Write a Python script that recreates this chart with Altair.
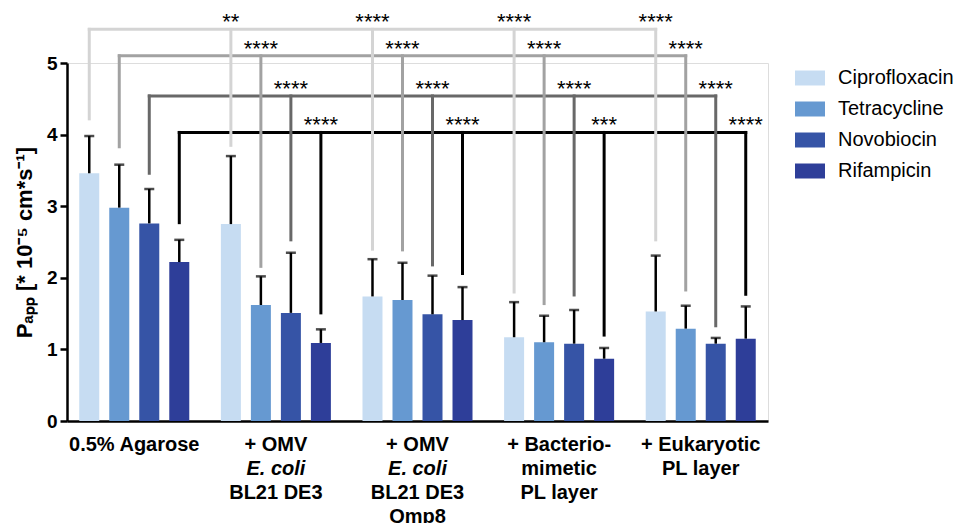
import altair as alt
import pandas as pd

# ---------------- data ----------------
groups = ["agarose", "omv_bl21", "omv_omp8", "bacterio", "eukaryotic"]
drugs = ["Ciprofloxacin", "Tetracycline", "Novobiocin", "Rifampicin"]
bar_colors = ["#c6dcf2", "#6699d1", "#3654a6", "#2e3e99"]
bracket_colors = ["#d4d4d4", "#a2a2a2", "#686868", "#000000"]

# mean Papp values (x 10^-5 cm/s) per group
cipro_mean = [3.46, 2.75, 1.74, 1.17, 1.53]
tetra_mean = [2.98, 1.62, 1.69, 1.10, 1.29]
novo_mean = [2.76, 1.51, 1.49, 1.08, 1.08]
rifa_mean = [2.22, 1.09, 1.41, 0.87, 1.15]

# standard deviations
cipro_sd = [0.52, 0.95, 0.52, 0.49, 0.78]
tetra_sd = [0.60, 0.40, 0.52, 0.37, 0.32]
novo_sd = [0.48, 0.84, 0.54, 0.47, 0.08]
rifa_sd = [0.31, 0.19, 0.46, 0.15, 0.45]

# significance brackets: bracket height and drop-line ends per group
bracket_level = [5.47, 5.10, 4.54, 4.03]
cipro_drop = [4.22, 3.85, 2.40, 1.80, 2.53]
tetra_drop = [3.83, 2.16, 2.39, 1.64, 1.83]
novo_drop = [3.46, 2.53, 2.18, 1.76, 1.33]
rifa_drop = [2.77, 1.51, 2.06, 1.20, 1.77]

cipro_stars = ["", "**", "****", "****", "****"]
tetra_stars = ["", "****", "****", "****", "****"]
novo_stars = ["", "****", "****", "****", "****"]
rifa_stars = ["", "****", "****", "***", "****"]

# x category labels (multi-line), italic flag per line
label_lines = [
    ["0.5% Agarose"],
    ["+ OMV", "E. coli", "BL21 DE3"],
    ["+ OMV", "E. coli", "BL21 DE3", "Omp8"],
    ["+ Bacterio-", "mimetic", "PL layer"],
    ["+ Eukaryotic", "PL layer"],
]
italic_lines = ["E. coli"]

y_title = "Pₐₚₚ [* 10⁻⁵ cm*s⁻¹]"

# ---------------- tables ----------------
means = [cipro_mean, tetra_mean, novo_mean, rifa_mean]
sds = [cipro_sd, tetra_sd, novo_sd, rifa_sd]
drops = [cipro_drop, tetra_drop, novo_drop, rifa_drop]
stars = [cipro_stars, tetra_stars, novo_stars, rifa_stars]

rows = []
for d, drug in enumerate(drugs):
    for g, grp in enumerate(groups):
        rows.append({
            "group": grp, "drug": drug,
            "mean": means[d][g], "top": means[d][g] + sds[d][g],
            "drop": drops[d][g], "level": bracket_level[d],
            "stars": stars[d][g], "bcolor": bracket_colors[d],
        })
df = pd.DataFrame(rows)

lab_rows = []
for g, grp in enumerate(groups):
    for k, line in enumerate(label_lines[g]):
        lab_rows.append({"group": grp, "line": k, "text": line,
                         "italic": line in italic_lines})
labels = pd.DataFrame(lab_rows)

W, H = 701, 358
x_scale = alt.Scale(domain=groups, paddingInner=0.223, paddingOuter=0.0865)
xo_scale = alt.Scale(domain=drugs, paddingInner=0.333, paddingOuter=0)
y_scale = alt.Scale(domain=[0, 5], nice=False)

X = alt.X("group:N", scale=x_scale, sort=groups,
          axis=alt.Axis(labels=False, ticks=False, title=None,
                        domainColor="black", domainWidth=2.5))
XO = alt.XOffset("drug:N", scale=xo_scale, sort=drugs)

base = alt.Chart(df)

bars = base.mark_bar(size=20).encode(
    x=X, xOffset=XO,
    y=alt.Y("mean:Q", scale=y_scale,
            axis=alt.Axis(values=[0, 1, 2, 3, 4, 5], format="d", title=y_title,
                          grid=False, domainColor="black", domainWidth=2.5,
                          tickColor="black", tickWidth=2.5, tickSize=7,
                          labelFontSize=19, labelFontWeight="bold",
                          labelColor="black", labelPadding=3,
                          titleFontSize=22, titleFontWeight="bold",
                          titleColor="black", titlePadding=10)),
    color=alt.Color("drug:N", sort=drugs,
                    scale=alt.Scale(domain=drugs, range=bar_colors),
                    legend=alt.Legend(
                        title=None, orient="right", offset=27, padding=0,
                        symbolType="M-1,-0.5H1V0.5H-1Z", symbolSize=900,
                        symbolStrokeWidth=0, labelFontSize=20,
                        labelColor="black", labelOffset=13, rowPadding=6)),
)

err_stem = base.mark_rule(color="black", strokeWidth=2.5).encode(
    x=X, xOffset=XO, y="mean:Q", y2="top:Q")
err_cap = base.mark_tick(color="black", orient="horizontal", size=10,
                         thickness=2.5).encode(x=X, xOffset=XO, y="top:Q")

h_lines = base.mark_line(strokeWidth=3, strokeCap="square").encode(
    x=X, xOffset=XO, y="level:Q",
    detail="drug:N",
    stroke=alt.Stroke("bcolor:N", scale=None))

v_lines = base.mark_rule(strokeWidth=3, strokeCap="square").encode(
    x=X, xOffset=XO, y="drop:Q", y2="level:Q",
    stroke=alt.Stroke("bcolor:N", scale=None))

star_text = base.mark_text(fontSize=22, baseline="alphabetic", dy=0,
                           color="black").encode(
    x=X, xOffset=XO, y="level:Q", text="stars:N")

lab_base = alt.Chart(labels).mark_text(
    fontSize=20, fontWeight="bold", color="black", baseline="middle",
    fontStyle={"expr": "datum.italic ? 'italic' : 'normal'"})
label_layers = [
    lab_base.transform_filter(alt.datum.line == k).encode(
        x=alt.X("group:N", scale=x_scale, sort=groups),
        y=alt.value(H + 24 + 24 * k), text="text:N")
    for k in range(4)
]

chart = alt.layer(
    h_lines, v_lines, bars, err_stem, err_cap, star_text, *label_layers
).properties(
    width=W, height=H,
    autosize=alt.AutoSizeParams(type="none"),
    padding={"left": 59, "top": 55, "right": 190, "bottom": 120},
).configure_view(stroke=None).configure(font="Liberation Sans")

chart.save("out.html", embed_options={"renderer": "svg", "actions": False})
